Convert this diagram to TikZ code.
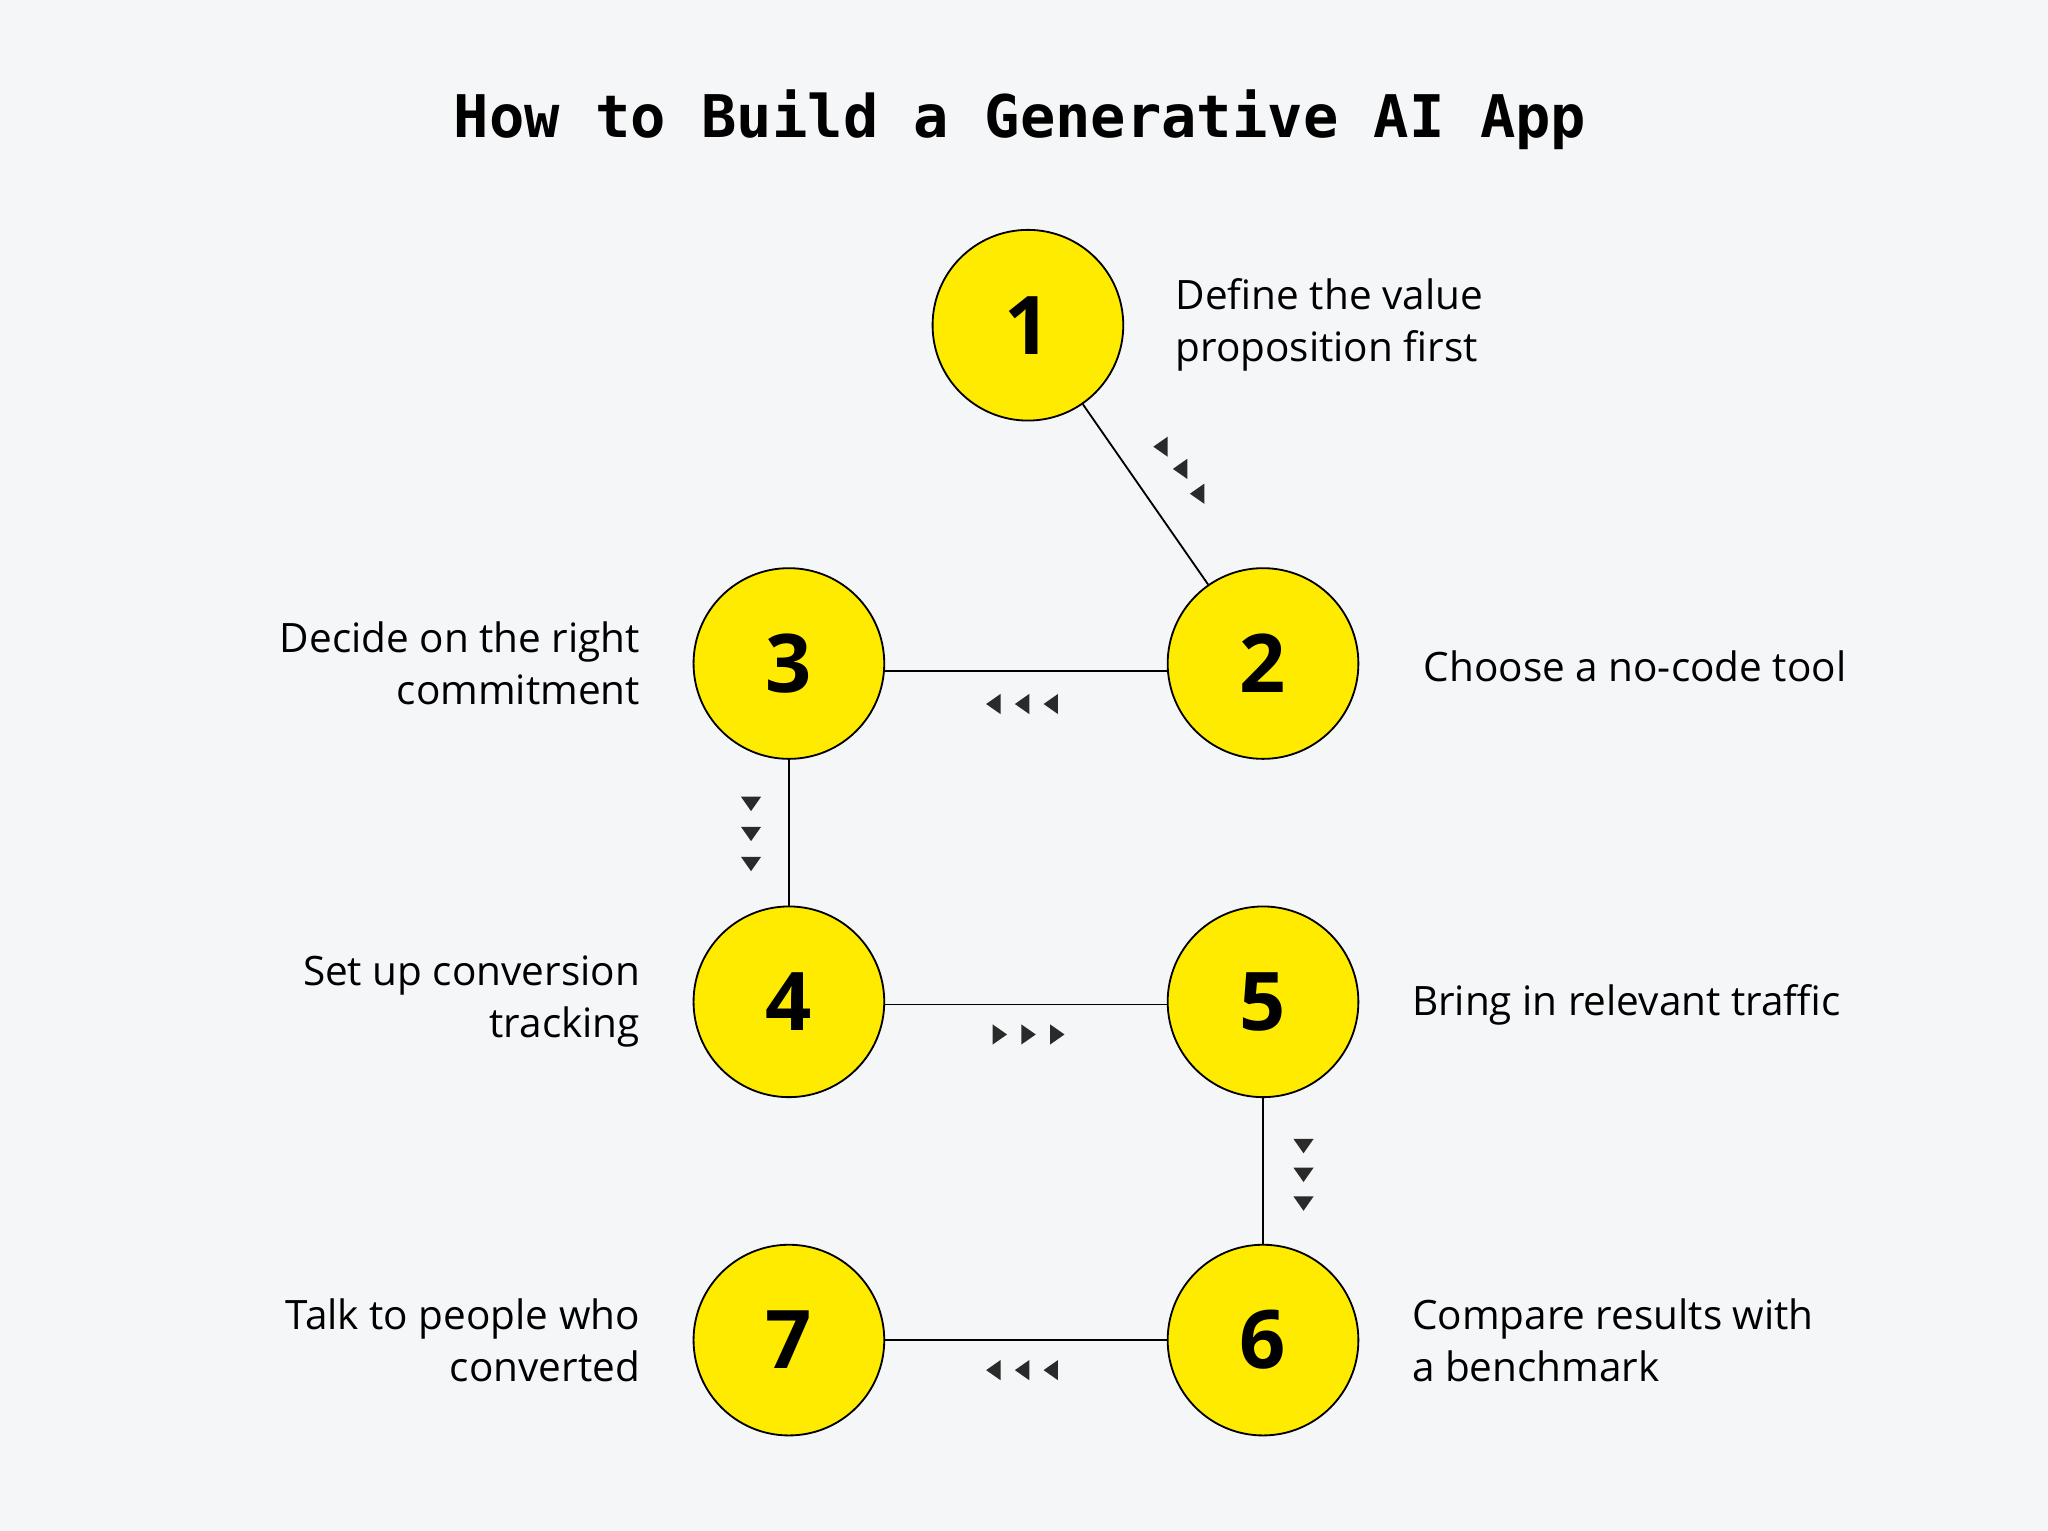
\documentclass[tikz,border=0pt]{standalone}
\usepackage{fontspec}
\setmainfont{Open Sans}
\newfontfamily\titlefont{DejaVu Sans Mono}
\usetikzlibrary{shapes.geometric}
\definecolor{bgcol}{HTML}{F5F6F8}
\definecolor{stepyellow}{HTML}{FFEB00}
\definecolor{tipcol}{HTML}{2A2A2A}
\tikzset{
  stepnode/.style={circle,draw=black,line width=0.7pt,fill=stepyellow,minimum size=73pt,inner sep=0pt,font=\fontsize{31}{31}\selectfont\bfseries},
  link/.style={line width=0.7pt},
  tip/.style={isosceles triangle,isosceles triangle apex angle=70,fill=tipcol,inner sep=0pt,minimum height=5.5pt,shape border rotate=#1},
  lbl/.style={font=\fontsize{15.5}{20}\selectfont,align=left,anchor=west},
  lblr/.style={font=\fontsize{15.5}{20}\selectfont,align=right,anchor=east}
}
\begin{document}
\begin{tikzpicture}[x=0.5pt,y=-0.5pt]
\fill[bgcol] (0,0) rectangle (1568,1172);
\useasboundingbox (0,0) rectangle (1568,1172);
% title
\node (title) at (781,92) {\titlefont\fontsize{22.5}{24}\selectfont\bfseries How to Build a Generative AI App};
% steps
\node[stepnode] (s1) at (787,249) {1};
\node[stepnode] (s2) at (967,508) {2};
\node[stepnode] (s3) at (604,508) {3};
\node[stepnode] (s4) at (604,767) {4};
\node[stepnode] (s5) at (967,767) {5};
\node[stepnode] (s6) at (967,1026) {6};
\node[stepnode] (s7) at (604,1026) {7};
% connectors
\draw[link] (s1) -- (s2);
\draw[link] ([yshift=-3pt]s3.east) -- ([yshift=-3pt]s2.west);
\draw[link] (s3) -- (s4);
\draw[link] ([yshift=-1pt]s4.east) -- ([yshift=-1pt]s5.west);
\draw[link] (s5) -- (s6);
\draw[link] (s7) -- (s6);
% tips
\foreach \i/\x/\y in {a/890/342,b/905/359,c/918/378} \node[tip=180] (t12\i) at (\x,\y) {};
\foreach \i/\x in {a/762,b/784,c/806} \node[tip=180] (t23\i) at (\x,539) {};
\foreach \i/\y in {a/614,b/637,c/660} \node[tip=270] (t34\i) at (575,\y) {};
\foreach \i/\x in {a/764,b/786,c/808} \node[tip=0] (t45\i) at (\x,792) {};
\foreach \i/\y in {a/876,b/898,c/920} \node[tip=270] (t56\i) at (998,\y) {};
\foreach \i/\x in {a/762,b/784,c/806} \node[tip=180] (t67\i) at (\x,1049) {};
% labels
\node[lbl] (l1) at (893,249) {Define the value\\proposition first};
\node[lbl] (l2) at (1083,510) {Choose a no-code tool};
\node[lblr] (l3) at (497,508) {Decide on the right\\commitment};
\node[lblr] (l4) at (497,767) {Set up conversion\\tracking};
\node[lbl] (l5) at (1074,769) {Bring in relevant traffic};
\node[lbl] (l6) at (1074,1026) {Compare results with\\a benchmark};
\node[lblr] (l7) at (497,1026) {Talk to people who\\converted};
\end{tikzpicture}
\end{document}
